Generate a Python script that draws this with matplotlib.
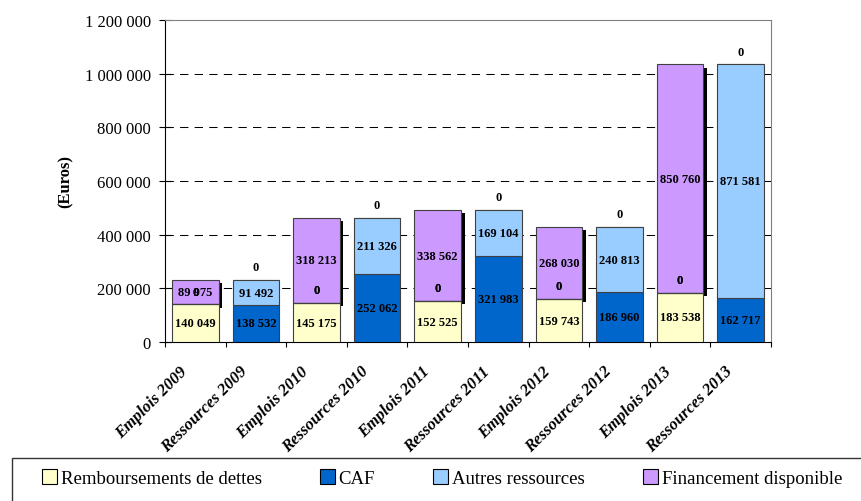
import matplotlib
matplotlib.use("Agg")
import matplotlib.pyplot as plt
import matplotlib.patheffects as pe
from matplotlib.patches import Patch, Rectangle
from matplotlib.ticker import FuncFormatter
from matplotlib.transforms import blended_transform_factory, ScaledTranslation

plt.rcParams['font.family'] = ['Liberation Serif', 'DejaVu Serif']

categories = ["Emplois 2009", "Ressources 2009", "Emplois 2010", "Ressources 2010",
              "Emplois 2011", "Ressources 2011", "Emplois 2012", "Ressources 2012",
              "Emplois 2013", "Ressources 2013"]
remb = [140049, 0, 145175, 0, 152525, 0, 159743, 0, 183538, 0]
caf = [0, 138532, 0, 252062, 0, 321983, 0, 186960, 0, 162717]
autres = [0, 91492, 0, 211326, 0, 169104, 0, 240813, 0, 871581]
fin = [89975, 0, 318213, 0, 338562, 0, 268030, 0, 850760, 0]

series = [("Remboursements de dettes", remb, "#FFFFCC"),
          ("CAF", caf, "#0066CC"),
          ("Autres ressources", autres, "#99CCFF"),
          ("Financement disponible", fin, "#CC99FF")]


def fmt(v, pos=None):
    return f"{int(v):,}".replace(",", " ")


fig = plt.figure(figsize=(8.62, 5.02), dpi=100)
ax = fig.add_axes([165 / 862, 1 - 343 / 502, 606 / 862, 322 / 502])

x = list(range(len(categories)))
bottom = [0] * len(categories)
for name, vals, col in series:
    z = 3
    if name == "Financement disponible":
        z = 2.8  # l'ombre passe sous les autres barres
    bars = ax.bar(x, vals, 0.77, bottom=bottom, color=col, edgecolor="#404040",
                  linewidth=0.8, zorder=z)
    if name == "Financement disponible":
        for b in bars:
            b.set_path_effects([pe.SimplePatchShadow(offset=(2.5, -2.3), shadow_rgbFace="black", alpha=1.0),
                                pe.Normal()])
    for i, v in enumerate(vals):
        if v > 0:
            ax.text(i, bottom[i] + v / 2, fmt(v), ha="center", va="center",
                    fontsize=9, fontweight="bold", zorder=5)
        elif name != "Remboursements de dettes" and bottom[i] > 0:
            ax.annotate("0", (i, bottom[i]), xytext=(0, 9.3), textcoords="offset points",
                        ha="center", va="center", fontsize=9, fontweight="bold", zorder=5)
    bottom = [b + v for b, v in zip(bottom, vals)]

ax.set_xlim(-0.5, 9.5)
ax.set_ylim(0, 1200000)
ax.set_yticks(range(0, 1200001, 200000))
ax.yaxis.set_major_formatter(FuncFormatter(fmt))
ax.tick_params(axis="y", direction="inout", length=8, width=0.8, pad=6, labelsize=12)
ax.set_xticks([i + 0.5 for i in range(-1, 10)])
ax.set_xticklabels([])
ax.tick_params(axis="x", direction="out", length=3.6, width=0.8)

for yv in range(200000, 1000001, 200000):
    ax.axhline(yv, color="black", lw=0.75, ls=(0, (8, 6)), zorder=1)

ax.spines["left"].set_color("black")
ax.spines["bottom"].set_color("black")
ax.spines["top"].set_color("#808080")
ax.spines["right"].set_color("#808080")
for s in ax.spines.values():
    s.set_linewidth(0.8)

ax.set_ylabel("(Euros)", fontsize=12, fontweight="bold", labelpad=8)

trans = blended_transform_factory(ax.transData, ax.transAxes) + \
    ScaledTranslation(-5 / 100, -21 / 100, fig.dpi_scale_trans)
for i, c in enumerate(categories):
    ax.text(i, 0, c, transform=trans, rotation=45, ha="right", va="top",
            fontsize=12, fontweight="bold", fontstyle="italic")

# cadre de la legende
fig.patches.append(Rectangle((12 / 862, -0.1), 0.99, 0.1 + 43 / 502, transform=fig.transFigure,
                             fill=False, edgecolor="#333333", lw=1.0))

handles = [Patch(facecolor=c, edgecolor="black", linewidth=0.8, label=n) for n, v, c in series]
fig.legend(handles=handles, loc="center left", bbox_to_anchor=(42 / 862, 1 - 479 / 502),
           ncol=4, frameon=False, fontsize=13.5, borderpad=0, borderaxespad=0,
           handlelength=0.8, handleheight=0.8, handletextpad=0.2, columnspacing=3.1)

fig.savefig("out.png", dpi=100)
